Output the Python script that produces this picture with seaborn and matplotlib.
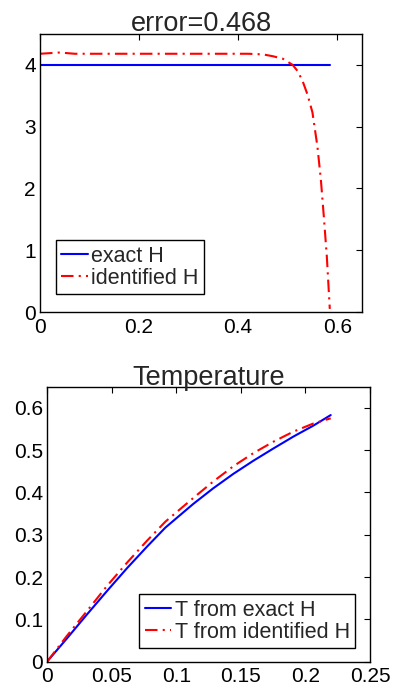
import matplotlib
matplotlib.use('Agg')
import matplotlib.pyplot as plt
import seaborn as sns
import pandas as pd
import numpy as np

# Datos
h_exact_x = [0.0, 0.585]
h_exact_y = [4.0, 4.0]

h_ident_x = [0.0, 0.02, 0.04, 0.07, 0.15, 0.25, 0.35, 0.42, 0.45, 0.47, 0.49,
             0.51, 0.52, 0.53, 0.54, 0.55, 0.56, 0.567, 0.573, 0.579, 0.585]
h_ident_y = [4.18, 4.19, 4.20, 4.18, 4.18, 4.18, 4.18, 4.18, 4.17, 4.14, 4.10,
             4.0, 3.9, 3.74, 3.52, 3.23, 2.68, 2.14, 1.54, 0.9, 0.05]

t_x = [0.0, 0.0155, 0.031, 0.0464, 0.0619, 0.0774, 0.0916, 0.1132, 0.1287,
       0.1442, 0.1597, 0.1752, 0.1906, 0.2061, 0.2196]
t_exact = [0.0, 0.0553, 0.112, 0.167, 0.221, 0.272, 0.317, 0.373, 0.410,
           0.444, 0.475, 0.504, 0.532, 0.558, 0.583]
t_ident = [0.0, 0.0615, 0.12, 0.179, 0.234, 0.286, 0.331, 0.387, 0.426,
           0.462, 0.493, 0.52, 0.5437, 0.563, 0.5753]

top_xticks = [0, 0.2, 0.4, 0.6]
top_xlabels = ['0', '0.2', '0.4', '0.6']
top_yticks = [0, 1, 2, 3, 4]
bot_xticks = [0, 0.05, 0.1, 0.15, 0.2, 0.25]
bot_xlabels = ['0', '0.05', '0.1', '0.15', '0.2', '0.25']
bot_yticks = [0, 0.1, 0.2, 0.3, 0.4, 0.5, 0.6]
bot_ylabels = ['0', '0.1', '0.2', '0.3', '0.4', '0.5', '0.6']

sns.set_style('white')
plt.rcParams['font.family'] = ['Liberation Sans', 'DejaVu Sans']
plt.rcParams['xtick.direction'] = 'in'
plt.rcParams['ytick.direction'] = 'in'
plt.rcParams['xtick.top'] = True
plt.rcParams['ytick.right'] = True

fig = plt.figure(figsize=(3.93, 6.88), dpi=100)
ax1 = fig.add_axes([0.1018, 0.5465, 0.8193, 0.4041])
ax2 = fig.add_axes([0.1196, 0.0382, 0.8219, 0.3997])

dashdot = (0, (6, 2.5, 1, 2.5))
leg_kw = dict(borderaxespad=0, fancybox=False, framealpha=1, edgecolor='black',
              fontsize=15.5, handlelength=1.25, handletextpad=0.15,
              borderpad=0.25, labelspacing=0.05)

# Grafico superior
sns.lineplot(x=h_exact_x, y=h_exact_y, ax=ax1, color='#0000ff', lw=1.5, label='exact H')
sns.lineplot(x=h_ident_x, y=h_ident_y, ax=ax1, color='#ff0000', lw=1.5,
             linestyle=dashdot, label='identified H')
ax1.set_xlim(0, 0.65)
ax1.set_ylim(0, 4.5)
ax1.set_xticks(top_xticks)
ax1.set_xticklabels(top_xlabels)
ax1.set_yticks(top_yticks)
ax1.set_title('error=0.468', fontsize=19.5, pad=2)
ax1.legend(loc='lower left', bbox_to_anchor=(0.049, 0.064), **leg_kw)

# Grafico inferior
sns.lineplot(x=t_x, y=t_exact, ax=ax2, color='#0000ff', lw=1.5, label='T from exact H')
sns.lineplot(x=t_x, y=t_ident, ax=ax2, color='#ff0000', lw=1.5,
             linestyle=dashdot, label='T from identified H')
ax2.set_xlim(0, 0.25)
ax2.set_ylim(0, 0.65)
ax2.set_xticks(bot_xticks)
ax2.set_xticklabels(bot_xlabels)
ax2.set_yticks(bot_yticks)
ax2.set_yticklabels(bot_ylabels)
ax2.set_title('Temperature', fontsize=19.5, pad=1)
ax2.legend(loc='lower right', bbox_to_anchor=(0.954, 0.049), **leg_kw)

for ax in (ax1, ax2):
    for s in ax.spines.values():
        s.set_color('black')
        s.set_linewidth(1.0)
    ax.tick_params(labelsize=15, length=4, width=0.8, colors='black')
    ax.tick_params(axis='x', pad=4)
    ax.tick_params(axis='y', pad=3)

fig.savefig('out.png', dpi=100)
